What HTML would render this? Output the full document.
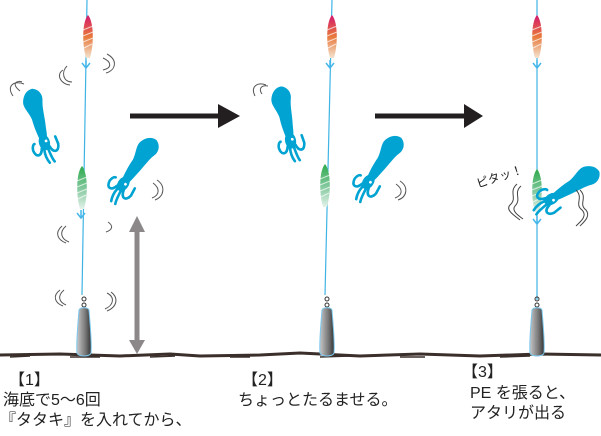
<!DOCTYPE html>
<html><head><meta charset="utf-8"><style>
html,body{margin:0;padding:0;background:#fff;}
body{width:601px;height:436px;position:relative;overflow:hidden;font-family:"Liberation Sans","Noto Sans CJK JP",sans-serif;}
.t{position:absolute;font-size:16px;color:#222;white-space:nowrap;line-height:20px;}
svg{position:absolute;left:0;top:0;}
</style></head><body>
<svg width="601" height="436" viewBox="0 0 601 436">
<defs>
<linearGradient id="jp" x1="0" y1="0" x2="0" y2="1">
<stop offset="0" stop-color="#d4186f"/><stop offset="0.5" stop-color="#e8783a"/><stop offset="1" stop-color="#f3e3d0"/></linearGradient>
<linearGradient id="jg" x1="0" y1="0" x2="0" y2="1">
<stop offset="0" stop-color="#2eaa4a"/><stop offset="0.5" stop-color="#7fc79a"/><stop offset="1" stop-color="#e2f2ea"/></linearGradient>
<linearGradient id="wt" x1="0" y1="0" x2="1" y2="0">
<stop offset="0" stop-color="#c8c8c8"/><stop offset="0.6" stop-color="#777"/><stop offset="1" stop-color="#333"/></linearGradient>
<g id="sq">
<path d="M2,-38 C8,-36 11,-30 9,-24 C7,-18 7,-10 6,-2 C5,4 5,8 4,12 L-4,12 C-5,6 -6,0 -6,-8 C-7,-16 -12,-22 -10,-28 C-8,-34 -4,-38 2,-38 Z" fill="#00a3d2"/>
<ellipse cx="0" cy="17" rx="5.5" ry="8" fill="#00a3d2"/>
<path d="M-4,22 C-6,30 -12,30 -13,22 C-13,18 -11,16 -10,16 M4,22 C6,30 12,30 13,22 L12,14 M-2,24 C-3,32 -1,36 0,38 M2,24 C3,32 4,36 5,38" stroke="#00a3d2" stroke-width="2.6" fill="none" stroke-linecap="round"/>
<circle cx="2" cy="16" r="1.4" fill="#fff"/>
</g>
<g id="jig">
<path d="M0,-21 C6,-14 6,8 2,22 L-2,22 C-6,8 -6,-14 0,-21 Z"/>
<path d="M-5,-6 L5,-10 M-5,0 L5,-4 M-5,6 L5,2 M-4,12 L4,8" stroke="#fff" stroke-width="1" opacity="0.7"/>
</g>
<g id="hook"><path d="M0,0 L0,8 M-4,3 L0,8 L4,3" stroke="#45b6ea" stroke-width="1.5" fill="none"/></g>
<g id="wt1">
<path d="M-2,-14 a2,2 0 1,1 4,0 a2,2 0 1,1 -4,0 M-2,-8 a2,2 0 1,1 4,0 a2,2 0 1,1 -4,0" stroke="#333" stroke-width="1" fill="none"/>
<path d="M-5,-3 C-6,10 -8,30 -7,40 C-6,44 6,44 7,40 C8,30 6,10 5,-3 C4,-6 -4,-6 -5,-3 Z" fill="url(#wt)" stroke="#7cc8ee" stroke-width="1"/>
</g>
</defs>
<path d="M0,355 L60,354 L120,356 L170,354 L200,356 L260,355 L300,353 L360,356 L420,354 L480,356 L540,354 L601,355" stroke="#3a2f2a" stroke-width="3" fill="none"/>
<path d="M10,357 l20,-1 M70,357 l30,0 M150,357 l25,-1 M230,357 l20,0 M320,357 l30,-1 M400,357 l25,0 M500,357 l30,-1" stroke="#3a2f2a" stroke-width="1.5"/>

<path d="M87,0 L82,295" stroke="#3fb4e4" stroke-width="1.2"/>
<use href="#jig" x="88" y="36" fill="url(#jp)"/>
<use href="#hook" x="86" y="60"/>
<use href="#jig" x="82" y="187" fill="url(#jg)"/>
<use href="#hook" x="81" y="210"/>
<use href="#wt1" x="84" y="313"/>
<use href="#sq" transform="translate(40,126) rotate(-15)"/>
<use href="#sq" transform="translate(133,170) rotate(35)"/>
<path d="M137,226 L137,346" stroke="#8c8889" stroke-width="5"/>
<path d="M129,232 L137,216 L145,232 Z M129,340 L137,354 L145,340 Z" fill="#8c8889"/>
<g stroke="#555" stroke-width="1" fill="none">
<path d="M20,91 C10,83 18,80 22,82 M13,96 C6,86 14,80 24,84"/>
<path d="M63,70 C55,75 62,85 70,85 M67,66 C61,72 63,82 72,82"/>
<path d="M103,58 C112,62 112,68 103,70 M107,54 C118,60 116,70 106,73"/>
<path d="M153,183 C160,188 160,195 152,198 M157,180 C166,186 164,197 155,200"/>
<path d="M62,226 C54,233 58,240 66,243 M66,226 C59,232 61,239 69,242"/>
<path d="M108,222 C114,226 112,230 106,232"/>
<path d="M60,290 C52,296 55,303 63,306 M64,290 C57,296 59,302 66,305"/>
<path d="M107,293 C115,297 114,305 105,309 M111,292 C119,298 117,307 107,311"/>
</g>
<path d="M130,116 L222,116" stroke="#231f20" stroke-width="5"/>
<path d="M218,104 L240,116 L218,128 Z" fill="#231f20"/>
<path d="M375,116 L467,116" stroke="#231f20" stroke-width="5"/>
<path d="M464,104 L483,116 L464,128 Z" fill="#231f20"/>

<path d="M332,0 L325,295" stroke="#3fb4e4" stroke-width="1.2"/>
<use href="#jig" x="332" y="36" fill="url(#jp)"/>
<use href="#hook" x="330" y="60"/>
<use href="#jig" x="325" y="185" fill="url(#jg)"/>
<use href="#wt1" x="327" y="313"/>
<use href="#sq" transform="translate(287,124) rotate(-12)"/>
<use href="#sq" transform="translate(378,168) rotate(35)"/>
<g stroke="#555" stroke-width="1" fill="none">
<path d="M255,96 C250,86 258,82 266,85 M262,94 C258,88 262,85 268,86"/>
<path d="M396,184 C403,189 403,195 395,198 M400,181 C409,187 407,197 398,200"/>
</g>

<path d="M537,0 L537,300" stroke="#3fb4e4" stroke-width="1.2"/>
<use href="#jig" x="537" y="36" fill="url(#jp)"/>
<use href="#hook" x="537" y="60"/>
<use href="#jig" x="537" y="190" fill="url(#jg)"/>
<use href="#hook" x="537" y="216"/>
<use href="#wt1" x="537" y="313"/>
<use href="#sq" transform="translate(566,190) rotate(58)"/>
<g stroke="#444" stroke-width="1" fill="none">
<path d="M517,184 C508,192 518,198 510,205 C505,210 515,216 520,220 M521,186 C513,193 522,199 515,206 C511,211 519,216 523,219"/>
<path d="M576,190 C584,198 574,204 582,210 C588,216 580,222 576,226 M580,190 C588,198 578,204 586,210 C591,216 584,222 580,226"/>
</g>
<text x="478" y="188" font-size="12" fill="#222" transform="rotate(-18 478 188)" font-family="Liberation Sans, Noto Sans CJK JP, sans-serif">ピタッ！</text>
</svg>
<div class="t" style="left:9px;top:371px;">【1】</div>
<div class="t" style="left:3px;top:391px;">海底で5〜6回</div>
<div class="t" style="left:0px;top:411px;">『タタキ』を入れてから、</div>
<div class="t" style="left:242px;top:371px;">【2】</div>
<div class="t" style="left:238px;top:391px;">ちょっとたるませる。</div>
<div class="t" style="left:462px;top:363px;">【3】</div>
<div class="t" style="left:470px;top:384px;">PE を張ると、</div>
<div class="t" style="left:470px;top:404px;">アタリが出る</div>
</body></html>
